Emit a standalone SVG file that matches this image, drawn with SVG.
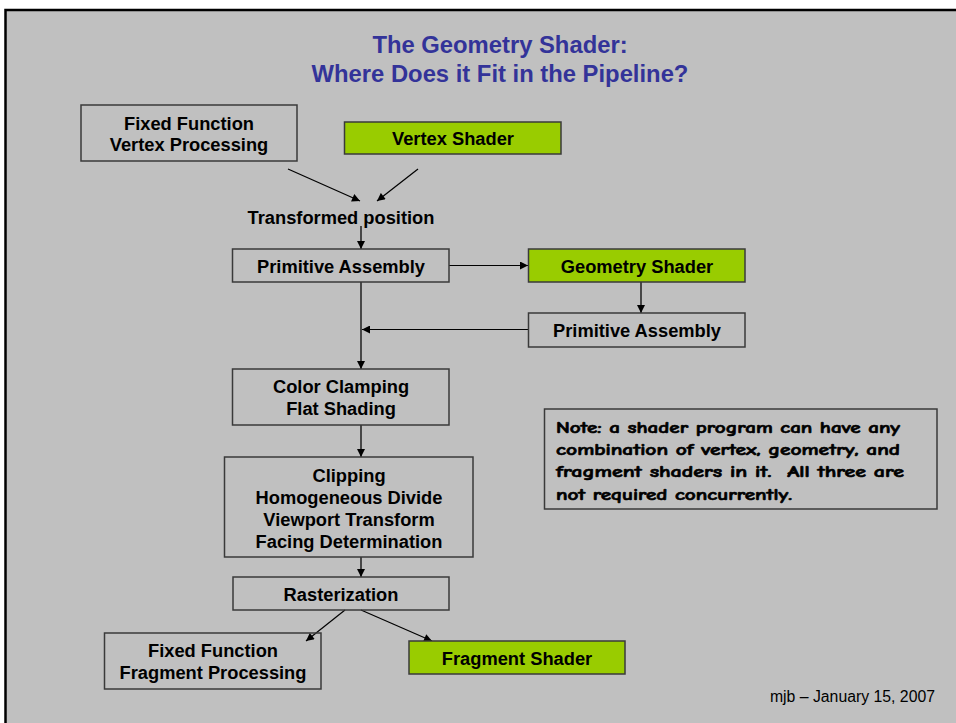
<svg xmlns="http://www.w3.org/2000/svg" width="956" height="723" viewBox="0 0 956 723">
<style>
.box{fill:none;stroke:#3a3a3a;stroke-width:1.5}
.g{fill:#99CC00;stroke:#3a3a3a;stroke-width:1.5}
.t{font-family:"Liberation Sans",Arial,sans-serif;font-weight:bold;font-size:18.3px;fill:#000;text-anchor:middle}
.title{font-family:"Liberation Sans",Arial,sans-serif;font-weight:bold;font-size:23.8px;fill:#333399;text-anchor:middle}
.note{font-family:"Comic Sans MS","Comic Neue","DejaVu Sans",sans-serif;font-weight:bold;font-size:15px;fill:#000;stroke:#000;stroke-width:0.6}
.foot{font-family:"Liberation Sans",Arial,sans-serif;font-size:15.8px;fill:#000;text-anchor:end}
.c{fill:none;stroke:#000;stroke-width:1.2}
.cv{fill:none;stroke:#3a3a3a;stroke-width:1.8}
</style>
<defs>
<marker id="ah" viewBox="0 0 10 10" refX="10" refY="5" markerWidth="9" markerHeight="8" markerUnits="userSpaceOnUse" orient="auto">
<path d="M0,0 L10,5 L0,10 Z" fill="#000"/>
</marker>
</defs>
<rect x="0" y="0" width="956" height="723" fill="#ffffff"/>
<rect x="5.5" y="10" width="960" height="730" fill="#C0C0C0" stroke="#000" stroke-width="2.5"/>
<g id="title">
<text class="title" x="500" y="53">The Geometry Shader:</text>
<text class="title" x="500" y="82">Where Does it Fit in the Pipeline?</text>
</g>
<g id="connectors">
<line class="c" x1="288" y1="169" x2="360" y2="201" marker-end="url(#ah)"/>
<line class="c" x1="418" y1="169" x2="377" y2="201" marker-end="url(#ah)"/>
<line class="cv" x1="361" y1="226" x2="361" y2="249" marker-end="url(#ah)"/>
<line class="c" x1="449" y1="265.5" x2="528" y2="265.5" marker-end="url(#ah)"/>
<line class="cv" x1="641" y1="282" x2="641" y2="313" marker-end="url(#ah)"/>
<line class="c" x1="528" y1="329.5" x2="362" y2="329.5" marker-end="url(#ah)"/>
<line class="cv" x1="361" y1="282" x2="361" y2="369" marker-end="url(#ah)"/>
<line class="cv" x1="361" y1="425" x2="361" y2="457" marker-end="url(#ah)"/>
<line class="cv" x1="361" y1="557" x2="361" y2="577" marker-end="url(#ah)"/>
<line class="c" x1="345" y1="610" x2="306" y2="641" marker-end="url(#ah)"/>
<line class="c" x1="361" y1="610" x2="432" y2="641" marker-end="url(#ah)"/>
</g>
<g id="ffvp">
<rect class="box" x="81" y="105" width="216" height="56"/>
<text class="t" x="189" y="130">Fixed Function</text>
<text class="t" x="189" y="151">Vertex Processing</text>
</g>
<g id="vs">
<rect class="g" x="344.5" y="122" width="216.5" height="32"/>
<text class="t" x="453" y="144.5">Vertex Shader</text>
</g>
<g id="tp">
<text class="t" x="341" y="224">Transformed position</text>
</g>
<g id="pa1">
<rect class="box" x="232.5" y="249" width="216.5" height="33"/>
<text class="t" x="341" y="272.5">Primitive Assembly</text>
</g>
<g id="gs">
<rect class="g" x="528.5" y="249" width="216.5" height="33"/>
<text class="t" x="637" y="272.5">Geometry Shader</text>
</g>
<g id="pa2">
<rect class="box" x="528.5" y="313" width="216.5" height="34"/>
<text class="t" x="637" y="336.5">Primitive Assembly</text>
</g>
<g id="cc">
<rect class="box" x="232.5" y="369" width="216.5" height="56"/>
<text class="t" x="341" y="393">Color Clamping</text>
<text class="t" x="341" y="415">Flat Shading</text>
</g>
<g id="clip">
<rect class="box" x="224.5" y="457" width="248.5" height="100"/>
<text class="t" x="349" y="482">Clipping</text>
<text class="t" x="349" y="504">Homogeneous Divide</text>
<text class="t" x="349" y="526">Viewport Transform</text>
<text class="t" x="349" y="548">Facing Determination</text>
</g>
<g id="rast">
<rect class="box" x="233" y="577" width="216" height="33"/>
<text class="t" x="341" y="600.5">Rasterization</text>
</g>
<g id="fffp">
<rect class="box" x="104.5" y="633" width="216.5" height="56"/>
<text class="t" x="213" y="657">Fixed Function</text>
<text class="t" x="213" y="679">Fragment Processing</text>
</g>
<g id="fs">
<rect class="g" x="409" y="641" width="216" height="33"/>
<text class="t" x="517" y="664.5">Fragment Shader</text>
</g>
<g id="note">
<rect class="box" x="544.5" y="409" width="392.5" height="100"/>
<text class="note" x="556" y="433" textLength="344" lengthAdjust="spacingAndGlyphs">Note: a shader program can have any</text>
<text class="note" x="556" y="455" textLength="344" lengthAdjust="spacingAndGlyphs">combination of vertex, geometry, and</text>
<text class="note" x="556" y="477" textLength="348" lengthAdjust="spacingAndGlyphs" xml:space="preserve">fragment shaders in it.  All three are</text>
<text class="note" x="556" y="500" textLength="236" lengthAdjust="spacingAndGlyphs">not required concurrently.</text>
</g>
<g id="footer">
<text class="foot" x="935" y="702">mjb – January 15, 2007</text>
</g>
</svg>
